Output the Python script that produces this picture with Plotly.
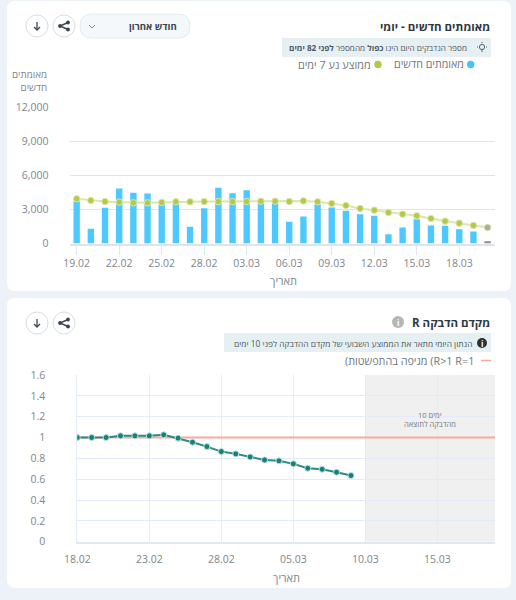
import plotly.graph_objects as go

W, H = 516, 600
FONT = "Open Sans"
TEXT = "#7f858e"
DARK = "#3b4350"

# Daily new cases
case_dates = ["19.02", "20.02", "21.02", "22.02", "23.02", "24.02", "25.02", "26.02", "27.02", "28.02",
              "01.03", "02.03", "03.03", "04.03", "05.03", "06.03", "07.03", "08.03", "09.03", "10.03",
              "11.03", "12.03", "13.03", "14.03", "15.03", "16.03", "17.03", "18.03", "19.03", "20.03"]
new_cases = [3735, 1294, 3146, 4850, 4470, 4410, 3440, 3500, 1470, 3120,
             4910, 4440, 4700, 3590, 3530, 1910, 2380, 3440, 3180, 2880,
             2590, 2440, 820, 1410, 2150, 1590, 1560, 1260, 1060, 200]
moving_avg = [3940, 3790, 3700, 3650, 3590, 3590, 3620, 3680, 3680, 3700,
              3700, 3700, 3700, 3730, 3730, 3700, 3760, 3680, 3530, 3350,
              3090, 2940, 2730, 2590, 2440, 2200, 1970, 1790, 1590, 1410]
case_ticks = ["19.02", "22.02", "25.02", "28.02", "03.03", "06.03", "09.03", "12.03", "15.03", "18.03"]
case_yticks = [0, 3000, 6000, 9000, 12000]

# Reproduction number
r_dates = ["18.02", "19.02", "20.02", "21.02", "22.02", "23.02", "24.02", "25.02", "26.02", "27.02",
           "28.02", "01.03", "02.03", "03.03", "04.03", "05.03", "06.03", "07.03", "08.03", "09.03",
           "10.03", "11.03", "12.03", "13.03", "14.03", "15.03", "16.03", "17.03", "18.03", "19.03"]
r_values = [1.00, 1.00, 1.00, 1.016, 1.016, 1.016, 1.026, 0.994, 0.955, 0.913,
            0.865, 0.843, 0.814, 0.785, 0.776, 0.747, 0.705, 0.695, 0.667, 0.635]
r_threshold = [1] * len(r_dates)
r_ticks = ["18.02", "23.02", "28.02", "05.03", "10.03", "15.03"]
r_yticks = [0, 0.2, 0.4, 0.6, 0.8, 1, 1.2, 1.4, 1.6]
lag_start, lag_end = "10.03", "19.03"


def px(x):
    return x / W


def py(y):
    return 1 - y / H


def label(x, y, text, size=11, color=TEXT, anchor="right", valign="middle"):
    return dict(x=px(x), y=py(y), xref="paper", yref="paper", text=text, showarrow=False,
                xanchor=anchor, yanchor=valign, align=anchor, borderpad=0,
                font=dict(family=FONT, size=size, color=color))


def box(x0, y0, x1, y1, r=0, fill="#fff", line=None, width=1):
    if r:
        path = (f"M {px(x0 + r)} {py(y0)} L {px(x1 - r)} {py(y0)} "
                f"Q {px(x1)} {py(y0)} {px(x1)} {py(y0 + r)} L {px(x1)} {py(y1 - r)} "
                f"Q {px(x1)} {py(y1)} {px(x1 - r)} {py(y1)} L {px(x0 + r)} {py(y1)} "
                f"Q {px(x0)} {py(y1)} {px(x0)} {py(y1 - r)} L {px(x0)} {py(y0 + r)} "
                f"Q {px(x0)} {py(y0)} {px(x0 + r)} {py(y0)} Z")
        return dict(type="path", path=path, xref="paper", yref="paper", layer="below",
                    fillcolor=fill, line=dict(color=line or "rgba(0,0,0,0)", width=width))
    return dict(type="rect", x0=px(x0), x1=px(x1), y0=py(y0), y1=py(y1), xref="paper", yref="paper",
                layer="below", fillcolor=fill, line=dict(color=line or "rgba(0,0,0,0)", width=width))


def circle(cx, cy, r, fill="#fff", line=None, width=1, layer="below"):
    return dict(type="circle", x0=px(cx - r), x1=px(cx + r), y0=py(cy - r), y1=py(cy + r),
                xref="paper", yref="paper", layer=layer, fillcolor=fill,
                line=dict(color=line or "rgba(0,0,0,0)", width=width))


def stroke(points, color=DARK, width=1.3):
    d = " ".join(("M" if i == 0 else "L") + f" {px(x)} {py(y)}" for i, (x, y) in enumerate(points))
    return dict(type="path", path=d, xref="paper", yref="paper", layer="below",
                line=dict(color=color, width=width))


def icon_buttons(cy):
    items = [circle(37, cy, 11, line="#d9dde3"), circle(64, cy, 11, line="#d9dde3")]
    # download arrow
    items += [stroke([(37, cy - 4), (37, cy + 4)]), stroke([(34, cy + 1), (37, cy + 4), (40, cy + 1)])]
    # share glyph
    items += [stroke([(68, cy - 3.5), (60, cy), (68, cy + 3.5)], width=1.4),
              circle(60, cy, 1.9, fill=DARK), circle(68, cy - 3.5, 1.9, fill=DARK), circle(68, cy + 3.5, 1.9, fill=DARK)]
    return items


shapes = [
    box(7, 1, 511, 291, r=8),
    box(7, 298, 511, 588, r=8),
    # first card chrome
    box(80, 14, 190, 38, r=12, fill="#f5f8fb", line="#e6eaf0"),
    stroke([(89, 25), (92, 28), (95, 25)], color="#8a9099", width=1),
    box(282, 38, 491, 57, fill="#e6f0f2"),
    circle(482, 47, 2.6, fill="rgba(0,0,0,0)", line="#5a626c"),
    stroke([(477, 47), (478, 47)], color="#5a626c", width=1),
    stroke([(486, 47), (487, 47)], color="#5a626c", width=1),
    stroke([(482, 42), (482, 43)], color="#5a626c", width=1),
    stroke([(481, 51), (483, 51)], color="#5a626c", width=1),
    circle(470.7, 64.5, 3.7, fill="#45c4fb"),
    circle(378, 64.5, 3.7, fill="#b5c84a"),
    # second card chrome
    circle(398, 322, 6, fill="#b4b6b8"),
    box(224, 333, 491, 352, fill="#e6f0f2"),
    circle(482, 343, 5, fill="#2a3038"),
    stroke([(481, 360.5), (491, 360.5)], color="#f9a99a", width=1.5),
    # lag window behind the grid
    dict(type="rect", xref="x2", yref="y2", x0=r_dates.index(lag_start), x1=r_dates.index(lag_end), y0=0, y1=1.6,
         fillcolor="#f0f0f0", line=dict(width=0), layer="below"),
]
shapes += icon_buttons(26) + icon_buttons(323)

annotations = [
    label(491, 26, "<b>מאומתים חדשים - יומי</b>", size=11.5, color="#2f3742"),
    label(178, 26.5, "<b>חודש אחרון</b>", size=9.6, color="#3d4450"),
    label(468, 47.5, "מספר הנדבקים היום הינו <b>כפול</b> מהמספר <b>לפני 82 ימים</b>", size=8.2, color="#4f5864"),
    label(465, 64, "מאומתים חדשים", size=10.7, color="#6f7680"),
    label(372, 64, "ממוצע נע 7 ימים", size=10.8, color="#6f7680"),
    label(48, 80.5, "מאומתים<br>חדשים", size=9.8),
    label(283, 280, "תאריך", size=11, anchor="center"),
    label(491, 322, "<b>R מקדם הדבקה</b>", size=11.5, color="#2f3742"),
    label(398, 322, "<b>i</b>", size=8, color="#ffffff", anchor="center"),
    label(482, 343, "<b>i</b>", size=8, color="#ffffff", anchor="center"),
    label(473, 343, "הנתון היומי מתאר את הממוצע השבועי של מקדם ההדבקה לפני 10 ימים", size=8.4, color="#4f5864"),
    label(475, 360.5, "(מגיפה בהתפשטות (R&gt;1 R=1", size=10.8, color="#6f7680"),
    label(430, 414.5, "10 ימים", size=7.5, color="#75797f", anchor="center"),
    label(430, 423.5, "מהדבקה לתוצאה", size=7.5, color="#75797f", anchor="center"),
    label(286, 577, "תאריך", size=11, anchor="center"),
]

fig = go.Figure()

bar_colors = ["#4dc9ff"] * (len(new_cases) - 1) + ["#8a8a8a"]
fig.add_trace(go.Bar(x=case_dates, y=new_cases, marker=dict(color=bar_colors, line=dict(width=0)),
                     width=0.45, xaxis="x", yaxis="y", showlegend=False))
avg_colors = ["#b5c84a"] * (len(moving_avg) - 1) + ["#a9a9a9"]
fig.add_trace(go.Scatter(x=case_dates, y=moving_avg, mode="lines+markers",
                         line=dict(color="#dde7ab", width=2),
                         marker=dict(color=avg_colors, size=6.5, line=dict(color="#dde7ab", width=1)),
                         xaxis="x", yaxis="y", showlegend=False))
fig.add_trace(go.Scatter(x=r_dates, y=r_threshold, mode="lines", line=dict(color="#f9a99a", width=2),
                         xaxis="x2", yaxis="y2", showlegend=False))
fig.add_trace(go.Scatter(x=r_dates[:len(r_values)], y=r_values, mode="lines+markers",
                         line=dict(color="#2a8a84", width=2),
                         marker=dict(color="#16807a", size=6, line=dict(color="#bfe0dc", width=1)),
                         xaxis="x2", yaxis="y2", showlegend=False))

axis_font = dict(family=FONT, size=10.5, color=TEXT)
fig.update_layout(
    width=W, height=H, margin=dict(l=0, r=0, t=0, b=0, autoexpand=False),
    paper_bgcolor="#edf1f8", plot_bgcolor="rgba(0,0,0,0)",
    font=dict(family=FONT), barmode="overlay",
    shapes=shapes, annotations=annotations,
    xaxis=dict(domain=[px(69.6), px(494.7)], anchor="y", type="category", automargin=False,
               categoryorder="array", categoryarray=case_dates, range=[-0.5, 29.5],
               tickmode="array", tickvals=case_ticks, ticktext=case_ticks,
               ticks="outside", ticklen=10, tickcolor="#dde6f5", tickwidth=1, tickfont=axis_font,
               ticklabelstandoff=-1,
               showgrid=False, showline=True, linecolor="#dfe3ee", linewidth=1.5, zeroline=False),
    yaxis=dict(domain=[py(243.5), py(107.5)], anchor="x", range=[0, 12000], automargin=False,
               tickmode="array", tickvals=case_yticks, tickformat=",", tickfont=axis_font,
               ticklabelstandoff=20, gridcolor="#e3e4e6", gridwidth=1, showline=False, zeroline=False),
    xaxis2=dict(domain=[px(77.3), px(495)], anchor="y2", type="category", automargin=False,
                categoryorder="array", categoryarray=r_dates, range=[0, 29],
                tickmode="array", tickvals=r_ticks, ticktext=r_ticks, tickfont=axis_font,
                ticks="", ticklabelstandoff=7,
                showgrid=True, gridcolor="#e4ebf8", gridwidth=1,
                showline=True, linecolor="#e0e7f5", linewidth=2, zeroline=False),
    yaxis2=dict(domain=[py(541.7), py(375)], anchor="x2", range=[0, 1.6], automargin=False,
                tickmode="array", tickvals=r_yticks,
                ticktext=["0", "0.2", "0.4", "0.6", "0.8", "1", "1.2", "1.4", "1.6"], tickfont=axis_font,
                ticklabelstandoff=29, showgrid=True, gridcolor="#e4ebf8", gridwidth=1,
                showline=True, linecolor="#e4ebf8", zeroline=False),
)

fig.write_html("out.html", config=dict(displayModeBar=False))
